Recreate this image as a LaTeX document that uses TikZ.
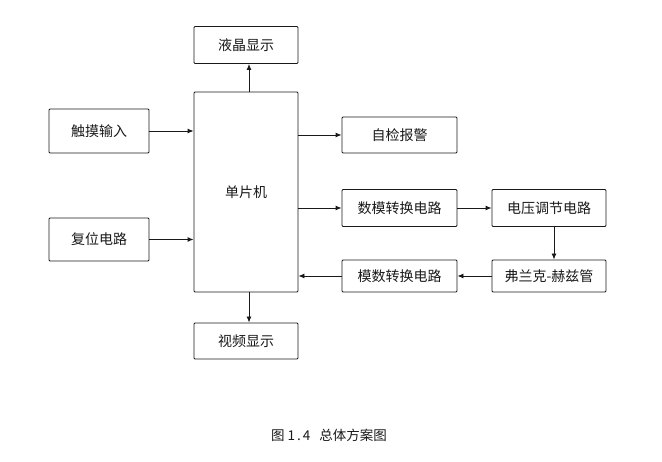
\documentclass[tikz,border=0pt]{standalone}
\usepackage{fontspec}
\newfontfamily\cjk{Noto Sans CJK SC}
\usetikzlibrary{arrows.meta,positioning,calc}
\definecolor{blk}{RGB}{25,25,25}
\tikzset{box/.style={draw=blk,rounded corners=1pt,line width=0.9pt,inner sep=2pt,align=center,
    font=\cjk\fontsize{14}{16}\selectfont,text=blk},
  flow/.style={-{Latex[length=6pt,width=5pt]},line width=0.9pt,blk},
  captext/.style={font=\cjk\fontsize{13.5}{16}\selectfont,text=blk}}

\begin{document}
\begin{tikzpicture}[x=1pt,y=-1pt]
\useasboundingbox (0,0) rectangle (662,462);
% left column
\node[box,minimum width=104pt,minimum height=200pt] (mcu) at (246,192) {单片机};
\node[box,minimum width=104pt,minimum height=37pt] (lcd) at (246,45) {液晶显示};
\node[box,minimum width=104pt,minimum height=36pt] (video) at (246,341) {视频显示};
\node[box,minimum width=100pt,minimum height=44pt] (touch) at (99,131) {触摸输入};
\node[box,minimum width=100pt,minimum height=43pt] (reset) at (99,239.5) {复位电路};
% right side
\node[box,minimum width=115pt,minimum height=36pt] (alarm) at (399.5,135) {自检报警};
\node[box,minimum width=115pt,minimum height=37pt] (dac) at (399.5,208) {数模转换电路};
\node[box,minimum width=114pt,minimum height=37pt] (volt) at (549,208) {电压调节电路};
\node[box,minimum width=114pt,minimum height=32pt] (fh) at (549,276) {弗兰克-赫兹管};
\node[box,minimum width=115pt,minimum height=32pt] (adc) at (399.5,276) {模数转换电路};
\node[captext] (cap) at (329,435) {图\hspace{3pt}1\hspace{2pt}.\hspace{2pt}4\hspace{9pt}总体方案图};
% connectors
\draw[flow] ([xshift=3pt]mcu.north) -- ([xshift=3pt]lcd.south);
\draw[flow] ([xshift=3pt]mcu.south) -- ([xshift=3pt]video.north);
\draw[flow] (touch.east) -- (touch.east -| mcu.west);
\draw[flow] (reset.east) -- (reset.east -| mcu.west);
\draw[flow] (alarm.west -| mcu.east) -- (alarm.west);
\draw[flow] (dac.west -| mcu.east) -- (dac.west);
\draw[flow] (dac.east) -- (volt.west);
\draw[flow] ([xshift=5pt]volt.south) -- ([xshift=5pt]fh.north);
\draw[flow] (fh.west) -- (adc.east);
\draw[flow] (adc.west) -- (adc.west -| mcu.east);
\end{tikzpicture}
\end{document}
